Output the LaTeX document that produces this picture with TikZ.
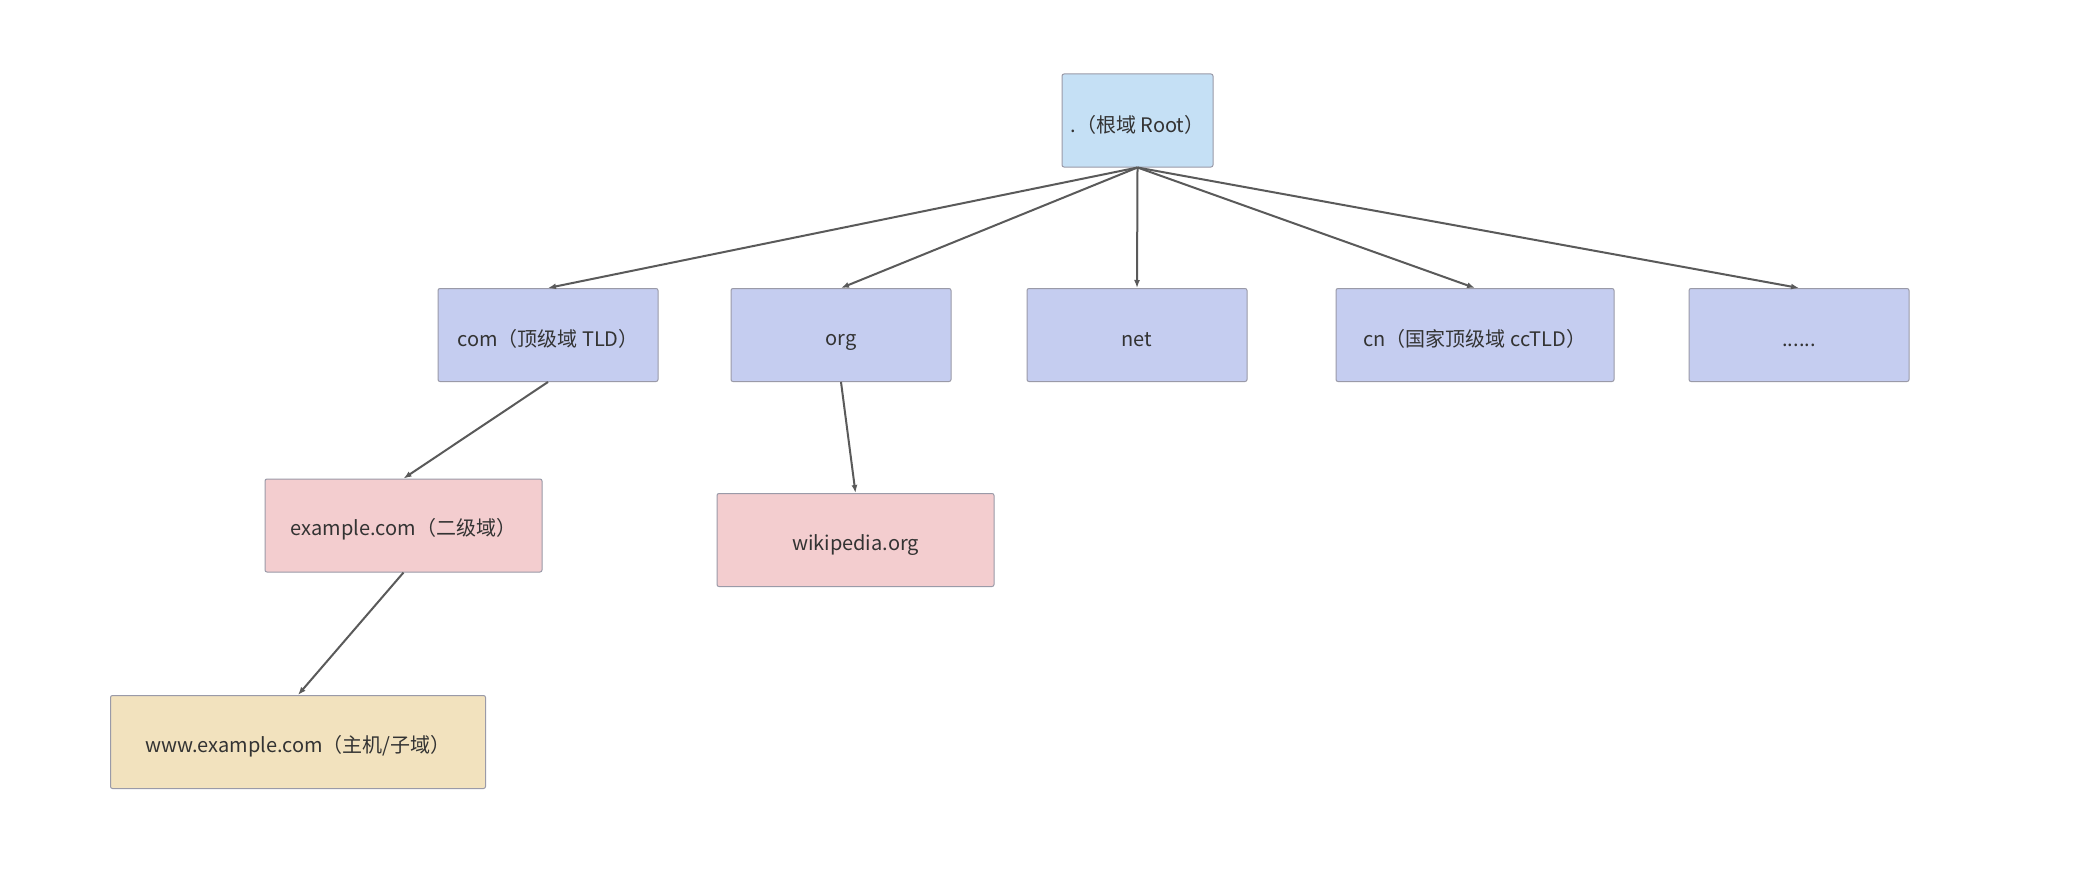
\documentclass[tikz,border=0pt]{standalone}
\usepackage{fontspec}
\setmainfont{Noto Sans CJK SC}
\usetikzlibrary{arrows.meta}
\definecolor{rootfill}{HTML}{C5E0F5}
\definecolor{tldfill}{HTML}{C5CDF0}
\definecolor{sldfill}{HTML}{F3CDCF}
\definecolor{hostfill}{HTML}{F2E2BE}
\definecolor{boxline}{HTML}{9A9AA8}
\definecolor{edgecol}{HTML}{5A5A5A}
\definecolor{txtcol}{HTML}{333333}
\newcommand{\lowtxt}[1]{\raisebox{-4pt}[\height][\depth]{\vphantom{（国}#1}}
\begin{document}
\begin{tikzpicture}[x=1pt,y=-1pt,
  box/.style={draw=boxline, line width=1pt, rounded corners=2pt, inner sep=0pt,
    minimum height=93pt, font=\fontsize{20}{23}\selectfont, text=txtcol},
  conn/.style={draw=edgecol, line width=2pt, -{Latex[length=8pt,width=6pt]}}]
\fill[white] (0,0) rectangle (2076,888);
\useasboundingbox (0,0) rectangle (2076,888);
\node[box, fill=rootfill, minimum width=151pt] (root) at (1137.5,120.5) {\lowtxt{.（根域 Root）}};
\node[box, fill=tldfill, minimum width=220pt] (com) at (548,335) {\lowtxt{com（顶级域 TLD）}};
\node[box, fill=tldfill, minimum width=220pt] (org) at (841,335) {\lowtxt{org}};
\node[box, fill=tldfill, minimum width=220pt] (net) at (1137,335) {\lowtxt{net}};
\node[box, fill=tldfill, minimum width=278pt] (cn) at (1475,335) {\lowtxt{cn（国家顶级域 ccTLD）}};
\node[box, fill=tldfill, minimum width=220pt] (dots) at (1799,335) {\lowtxt{......}};
\node[box, fill=sldfill, minimum width=277pt] (example) at (403.5,525.5) {\lowtxt{example.com（二级域）}};
\node[box, fill=sldfill, minimum width=277pt] (wiki) at (855.5,540) {\lowtxt{wikipedia.org}};
\node[box, fill=hostfill, minimum width=375pt] (www) at (298,742) {\lowtxt{www.example.com（主机/子域）}};
\draw[conn] (root.south) -- (com.north);
\draw[conn] (root.south) -- (org.north);
\draw[conn] (root.south) -- (net.north);
\draw[conn] (root.south) -- (cn.north);
\draw[conn] (root.south) -- (dots.north);
\draw[conn] (com.south) -- (example.north);
\draw[conn] (org.south) -- (wiki.north);
\draw[conn] (example.south) -- (www.north);
\end{tikzpicture}
\end{document}
